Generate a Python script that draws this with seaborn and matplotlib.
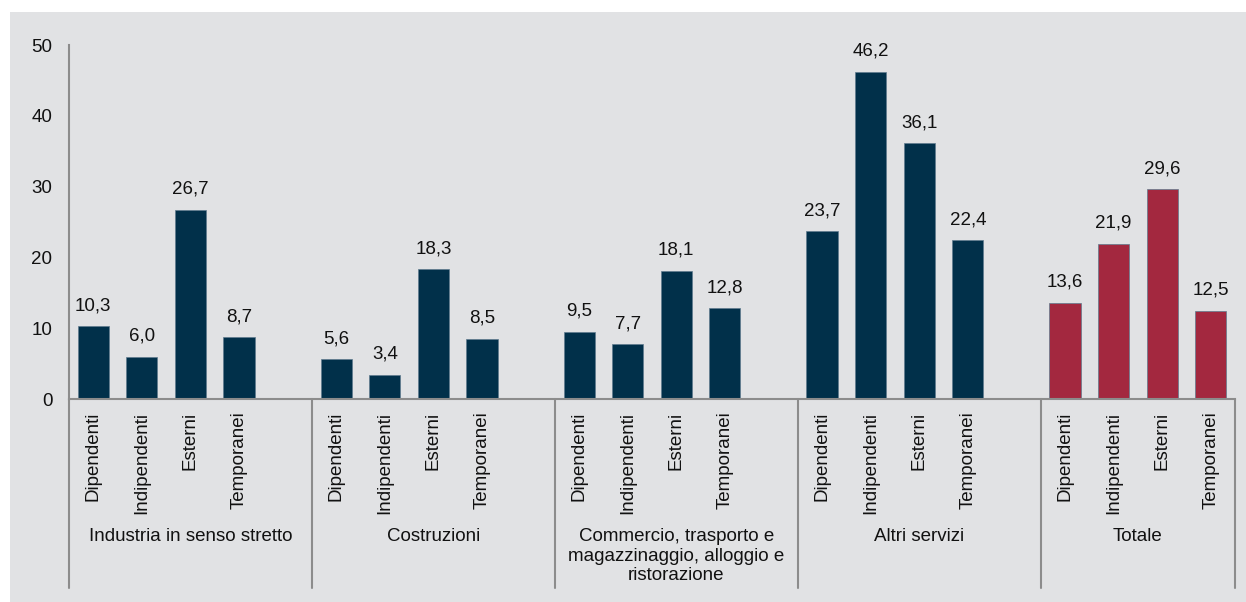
import pandas as pd
import matplotlib.pyplot as plt
from matplotlib.patches import Rectangle
import seaborn as sns

# Data
groups = ["Industria in senso stretto", "Costruzioni",
          "Commercio, trasporto e\nmagazzinaggio, alloggio e\nristorazione",
          "Altri servizi", "Totale"]
categories = ["Dipendenti", "Indipendenti", "Esterni", "Temporanei"]
industria = [10.3, 6.0, 26.7, 8.7]
costruzioni = [5.6, 3.4, 18.3, 8.5]
commercio = [9.5, 7.7, 18.1, 12.8]
altri_servizi = [23.7, 46.2, 36.1, 22.4]
totale = [13.6, 21.9, 29.6, 12.5]

series = [industria, costruzioni, commercio, altri_servizi, totale]

navy = "#01304a"
crimson = "#a3283f"
bg = "#e1e2e4"
axis_gray = "#8c8c8c"

# Build long table; each group takes 5 slots (4 bars + an empty gap)
rows = []
for g, vals in enumerate(series):
    for i, (cat, v) in enumerate(zip(categories, vals)):
        rows.append({"pos": g * 5 + i, "categoria": cat, "valore": v,
                     "tipo": "totale" if g == len(series) - 1 else "settore"})
df = pd.DataFrame(rows)

sns.set_style("white")
plt.rcParams["font.family"] = ["Liberation Sans", "DejaVu Sans"]
plt.rcParams["font.size"] = 13.5

fig = plt.figure(figsize=(12.46, 6.02), dpi=100, facecolor="white")
fig.patches.append(Rectangle((10 / 1246, 0), 1, (602 - 12) / 602,
                             transform=fig.transFigure, facecolor=bg,
                             edgecolor="none", zorder=-10))
ax = fig.add_axes([69 / 1246, 1 - 399 / 602, (1235 - 69) / 1246, 354 / 602])
ax.set_facecolor(bg)

sns.barplot(data=df, x="pos", y="valore", hue="tipo",
            palette={"settore": navy, "totale": crimson}, saturation=1,
            native_scale=True, dodge=False, width=0.64, legend=False,
            edgecolor="#5f7b8e", linewidth=0.5, ax=ax)

# value labels with decimal comma
for _, r in df.iterrows():
    ax.text(r["pos"], r["valore"] + 1.7, f"{r['valore']:.1f}".replace(".", ","),
            ha="center", va="bottom", fontsize=13.5, color="#111111")

ax.set_xlim(-0.5, 23.5)
ax.set_ylim(0, 50)
ax.set_yticks([0, 10, 20, 30, 40, 50])
ax.set_xticks(df["pos"])
ax.set_xticklabels(df["categoria"], rotation=90, va="top")
ax.tick_params(axis="x", length=0, pad=9, labelsize=13.5, colors="#111111")
ax.tick_params(axis="y", length=0, pad=12, labelsize=13.5, colors="#111111")
ax.set_xlabel("")
ax.set_ylabel("")

for side in ["top", "right"]:
    ax.spines[side].set_visible(False)
for side in ["left", "bottom"]:
    ax.spines[side].set_color(axis_gray)
    ax.spines[side].set_linewidth(1.5)

# group separators and group labels below the axis
trans = ax.get_xaxis_transform()
seps = [-0.5, 4.5, 9.5, 14.5, 19.5, 23.5]
for x in seps:
    ax.plot([x, x], [0, -0.534], transform=trans, color=axis_gray,
            lw=1.5, clip_on=False)
for g, name in enumerate(groups):
    center = (seps[g] + seps[g + 1]) / 2
    ax.text(center, -0.365, name, transform=trans, ha="center", va="top",
            fontsize=13.5, color="#111111", linespacing=1.2)

fig.savefig("out.png", dpi=100, facecolor="white")
